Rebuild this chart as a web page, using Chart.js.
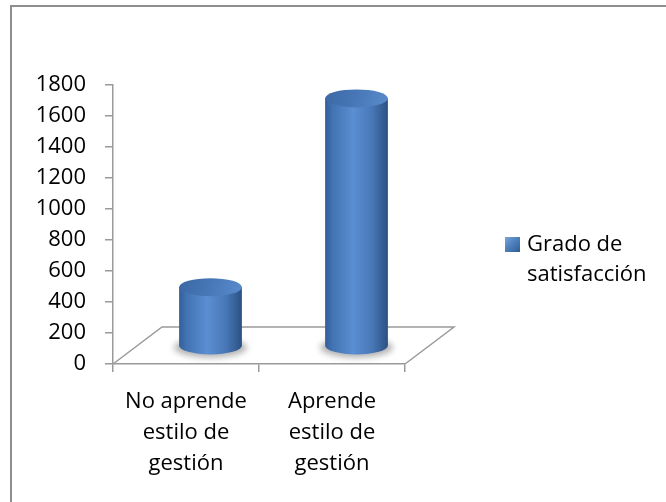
<!DOCTYPE html>
<html lang="es">
<head>
    <meta charset="UTF-8">
    <title>Grado de satisfacción</title>
    <script src="https://cdn.jsdelivr.net/npm/chart.js"></script>
    <style>
        body { margin: 0; background: #fff; }
        #wrap { position: relative; width: 666px; height: 502px; overflow: hidden; }
        #frame { position: absolute; left: 10px; top: 5px; width: 700px; height: 600px;
                 border-left: 2px solid #8e8e8e; border-top: 2px solid #8e8e8e; }
        #legend { position: absolute; left: 505px; top: 227px; font-family: "Open Sans", sans-serif;
                  font-size: 22px; line-height: 30px; color: #000; }
        #legend .box { position: absolute; left: 0; top: 10px; width: 15px; height: 15px;
                       background: linear-gradient(135deg, #7aa6dc 0%, #4f81bd 45%, #2f5d94 100%); }
        #legend .txt { margin-left: 22px; }
    </style>
</head>
<body>
<div id="wrap">
    <div id="frame"></div>
    <canvas id="myChart"></canvas>
    <div id="legend"><span class="box"></span><div class="txt">Grado de<br>satisfacción</div></div>
</div>

<script>
    // data
    var categories = [['No aprende', 'estilo de', 'gestión'], ['Aprende', 'estilo de', 'gestión']];
    var satisfaccion = [376, 1594];
    var yTickValues = [0, 200, 400, 600, 800, 1000, 1200, 1400, 1600, 1800];

    var DEPTH_X = 49, DEPTH_Y = -37;   // floor depth (oblique 3D look)
    var axisGray = '#9a9a9a';

    // draws the floor and the cylinders from the bar elements
    var cylinders = {
        id: 'cylinders',
        afterDatasetsDraw: function(chart) {
            var c = chart.ctx;
            var xs = chart.scales.x, ys = chart.scales.y;
            var y0 = ys.getPixelForValue(0);

            // floor
            c.save();
            c.strokeStyle = axisGray;
            c.lineWidth = 1.5;
            c.beginPath();
            c.moveTo(xs.left, y0);
            c.lineTo(xs.left + DEPTH_X, y0 + DEPTH_Y);
            c.lineTo(xs.right + DEPTH_X, y0 + DEPTH_Y);
            c.lineTo(xs.right, y0);
            c.stroke();
            c.restore();

            var meta = chart.getDatasetMeta(0);
            meta.data.forEach(function(bar) {
                var cx = bar.x + DEPTH_X / 2;
                var rx = bar.width / 2;
                var ry = 9;
                var base = y0 + DEPTH_Y / 2;
                var top = bar.y + DEPTH_Y / 2;

                c.save();
                // shadow
                c.fillStyle = 'rgba(80,80,80,0.45)';
                c.filter = 'blur(3px)';
                c.beginPath();
                c.ellipse(cx, base + 2, rx + 5, ry + 1, 0, 0, Math.PI * 2);
                c.fill();
                c.filter = 'none';

                var g = c.createLinearGradient(cx - rx, 0, cx + rx, 0);
                g.addColorStop(0, '#325f98');
                g.addColorStop(0.12, '#4273b3');
                g.addColorStop(0.45, '#5b8ed2');
                g.addColorStop(0.75, '#4877b6');
                g.addColorStop(1, '#2b5182');

                // body + bottom half ellipse
                c.fillStyle = g;
                c.beginPath();
                c.moveTo(cx - rx, top);
                c.lineTo(cx - rx, base);
                c.ellipse(cx, base, rx, ry, 0, Math.PI, 0, true);
                c.lineTo(cx + rx, top);
                c.closePath();
                c.fill();

                // top cap
                var tg = c.createLinearGradient(cx - rx, top - ry, cx + rx, top + ry);
                tg.addColorStop(0, '#3c68a4');
                tg.addColorStop(0.5, '#4878b8');
                tg.addColorStop(1, '#5a8bcc');
                c.fillStyle = tg;
                c.beginPath();
                c.ellipse(cx, top, rx, ry, 0, 0, Math.PI * 2);
                c.fill();
                c.restore();
            });
        }
    };

    var ctx = document.getElementById('myChart').getContext('2d');
    var myChart = new Chart(ctx, {
        type: 'bar',
        data: {
            labels: categories,
            datasets: [{
                label: 'Grado de satisfacción',
                data: satisfaccion,
                backgroundColor: 'rgba(0,0,0,0)',
                barPercentage: 0.43,
                categoryPercentage: 1
            }]
        },
        options: {
            responsive: true,
            maintainAspectRatio: false,
            animation: false,
            layout: { padding: { left: 0, top: 85, right: 261, bottom: 0 } },
            plugins: { legend: { display: false }, tooltip: { enabled: false } },
            scales: {
                x: {
                    afterFit: function(s) { s.height = 138; },
                    border: { display: true, color: axisGray, width: 1.5 },
                    grid: { display: true, drawOnChartArea: false, drawTicks: true, tickLength: 8, color: axisGray, lineWidth: 1.5 },
                    ticks: {
                        color: '#000', padding: 14,
                        font: { family: 'Open Sans', size: 22, lineHeight: '31px' }
                    }
                },
                y: {
                    min: 0, max: 1800,
                    afterFit: function(s) { s.width = 113; },
                    afterBuildTicks: function(s) { s.ticks = yTickValues.map(function(v) { return { value: v }; }); },
                    border: { display: true, color: axisGray, width: 1.5 },
                    grid: { display: true, drawOnChartArea: false, drawTicks: true, tickLength: 8, color: axisGray, lineWidth: 1.5 },
                    ticks: {
                        color: '#000', padding: 19,
                        font: { family: 'Open Sans', size: 22 },
                        callback: function(v) { return String(v); }
                    }
                }
            }
        },
        plugins: [cylinders]
    });
</script>
</body>
</html>
